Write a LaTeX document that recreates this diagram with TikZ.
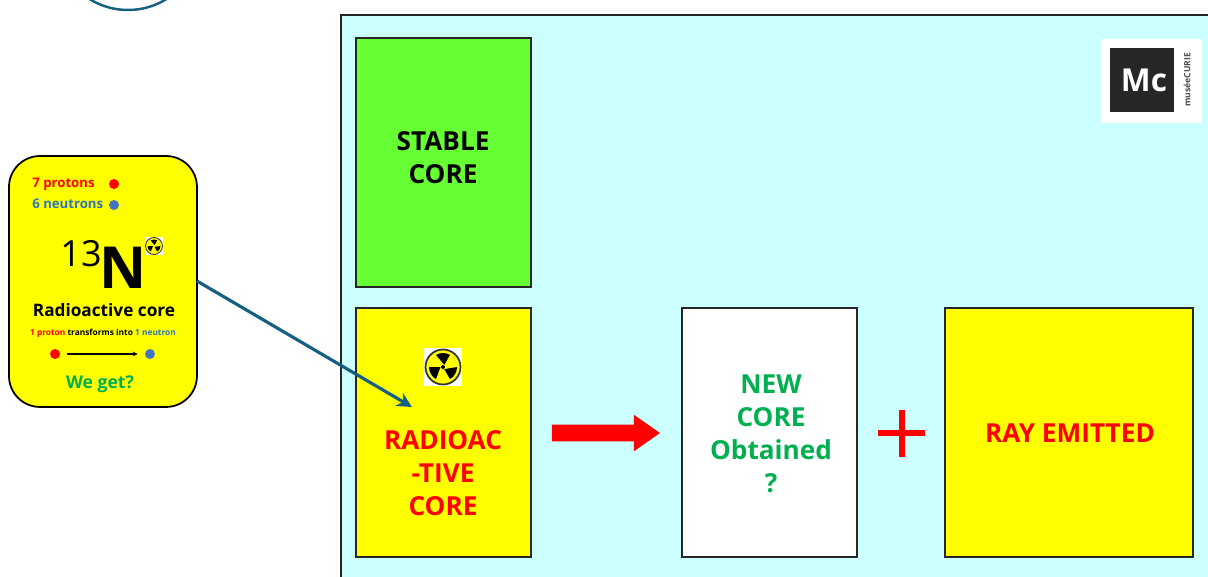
\documentclass[tikz,border=0pt]{standalone}
\usepackage{fontspec}
\setmainfont{Open Sans}
\usetikzlibrary{shapes.arrows, arrows.meta, positioning}
\definecolor{panelCyan}{RGB}{204, 255, 255}
\definecolor{coreGreen}{RGB}{102, 255, 51}
\definecolor{coreYellow}{RGB}{255, 255, 0}
\definecolor{textGreen}{RGB}{0, 176, 80}
\definecolor{dotBlue}{RGB}{68, 114, 196}
\definecolor{textBlue}{RGB}{46, 117, 182}
\definecolor{linkTeal}{RGB}{21, 96, 130}
\definecolor{logoDark}{RGB}{38, 38, 38}

\begin{document}
\begin{tikzpicture}[
    x=0.02cm, y=-0.02cm,
    % --- Boxes ---
    coreBox/.style={
        rectangle,
        draw=black!85,
        line width=1.4pt,
        outer sep=0pt,
        anchor=north west,
        minimum height=4.98cm
    },
    coreText/.style={align=center, font=\fontsize{14.9}{18.8}\selectfont\bfseries},
    cardBox/.style={
        rectangle,
        rounded corners=0.62cm,
        draw=black,
        line width=1pt,
        outer sep=0pt,
        fill=coreYellow,
        anchor=north west,
        minimum width=3.76cm,
        minimum height=5.02cm
    },
    % --- Card texts and dots ---
    cardText/.style={inner sep=0pt, font=\fontsize{7.5}{9}\selectfont\bfseries},
    particle/.style={circle, inner sep=0pt, minimum size=0.2cm},
    link/.style={-{Stealth[length=0.3cm,width=0.3cm]}, line width=1.8pt, draw=linkTeal},
    plusBar/.style={draw=red, line width=3.3pt}
]
    \useasboundingbox (0,0) rectangle (1208,576);

    % --- Background panel, runs off the page ---
    \begin{scope}
        \clip (0,0) rectangle (1208,576);
        \node (panel) [rectangle, draw=black!85, line width=1pt, outer sep=0pt, fill=panelCyan, anchor=north west,
            minimum width=19cm, minimum height=12cm] at (341,15) {};
        \node (topCircle) [circle, draw=linkTeal, line width=1.4pt, minimum size=2.92cm, inner sep=0pt] at (128,-63) {};
    \end{scope}

    % --- Core boxes ---
    \node (stable) [coreBox, fill=coreGreen, minimum width=3.5cm] at (356,38) {};
    \node [coreText] at (443,158) {STABLE\\CORE};

    \node (radio) [coreBox, fill=coreYellow, minimum width=3.5cm] at (356,308) {};
    \node [coreText, text=red] at (443,473) {RADIOAC\\-TIVE\\CORE};

    \node (newcore) [coreBox, fill=white, minimum width=3.5cm] at (682,308) {};
    \node [coreText, text=textGreen] at (771,434) {NEW\\CORE\\Obtained\\?};

    \node (ray) [coreBox, fill=coreYellow, minimum width=4.96cm] at (945,308) {};
    \node [coreText, text=red] at (1070,433) {RAY EMITTED};

    % Radiation sign in the box
    \node (signA) [rectangle, fill=white, inner sep=0pt, minimum size=0.76cm] at (443,367) {};
    \fill[coreYellow, draw=black!80, line width=1pt] (signA) circle (0.35cm);
    \foreach \ang in {90,210,330} {
        \fill[black] (signA.center) ++(\ang-30:0.05cm) -- ++(\ang-30:0.23cm) arc[start angle=\ang-30, end angle=\ang+30, radius=0.28cm] -- cycle;
    }
    \fill[black] (signA) circle (0.04cm);

    % Red block arrow
    \node (bigArrow) [single arrow, fill=red, inner xsep=0pt, inner ysep=0.16cm, minimum height=2.16cm,
        single arrow head extend=0.2cm, single arrow tip angle=70] at (600,433) {};

    % Plus sign
    \coordinate (plusL) at (878,433);
    \coordinate (plusR) at (925,433);
    \coordinate (plusT) at (902,410);
    \coordinate (plusB) at (902,457);
    \draw [plusBar] (plusL) -- (plusR);
    \draw [plusBar] (plusT) -- (plusB);

    % --- Logo ---
    \node (logoBack) [rectangle, fill=white, inner sep=0pt, minimum width=2.02cm, minimum height=1.7cm] at (1151.5,81) {};
    \node (logoSquare) [rectangle, fill=logoDark, inner sep=0pt, minimum size=1.28cm] at (1142,80) {};
    \node [text=white, inner sep=0pt, font=\fontsize{18}{18}\selectfont\bfseries] at (1144,80) {Mc};
    \node [rotate=90, inner sep=0pt, text=black!70, font=\fontsize{4.9}{5}\selectfont\bfseries] at (1187,80) {muséeCURIE};

    % --- Left card ---
    \node (card) [cardBox] at (9,156) {};
    \node (protons) [cardText, text=red, anchor=west] at (32,184) {7 protons};
    \node (neutrons) [cardText, text=textBlue, anchor=west] at (32,204) {6 neutrons};
    \node (protonDot) [particle, fill=red] at (114,184) {};
    \node (neutronDot) [particle, fill=dotBlue] at (114,205) {};

    \node (massNum) [inner sep=0pt, font=\fontsize{20.5}{20}\selectfont] at (81,254) {13};
    \node (element) [inner sep=0pt, font=\fontsize{33}{33}\selectfont\bfseries] at (123,268) {N};

    % Radiation sign in the card
    \node (signB) [rectangle, fill=white, inner sep=0pt, minimum size=0.36cm] at (154,246) {};
    \fill[coreYellow, draw=black!80, line width=0.5pt] (signB) circle (0.17cm);
    \foreach \ang in {90,210,330} {
        \fill[black] (signB.center) ++(\ang-30:0.02cm) -- ++(\ang-30:0.11cm) arc[start angle=\ang-30, end angle=\ang+30, radius=0.13cm] -- cycle;
    }

    \node (cardTitle) [inner sep=0pt, font=\fontsize{9.8}{10}\selectfont\bfseries] at (104,310) {Radioactive core};
    \node (cardNote) [inner sep=0pt, font=\fontsize{4.75}{5}\selectfont\bfseries] at (103,333)
        {\textcolor{red}{1 proton} transforms into \textcolor{textBlue}{1 neutron}};

    \node (fromDot) [particle, fill=red] at (55,354) {};
    \node (toDot) [particle, fill=dotBlue] at (150,354) {};
    \draw [-{Stealth[length=0.1cm,width=0.1cm]}, line width=0.6pt, shorten <=0.14cm, shorten >=0.14cm] (fromDot) -- (toDot);

    \node (weGet) [inner sep=0pt, text=textGreen, font=\fontsize{10}{10}\selectfont\bfseries] at (100,384) {We get?};

    % --- Link from card to radioactive core ---
    \coordinate (linkEnd) at (412,407);
    \draw [link] (card.east |- 0,281) -- (linkEnd);

\end{tikzpicture}
\end{document}
